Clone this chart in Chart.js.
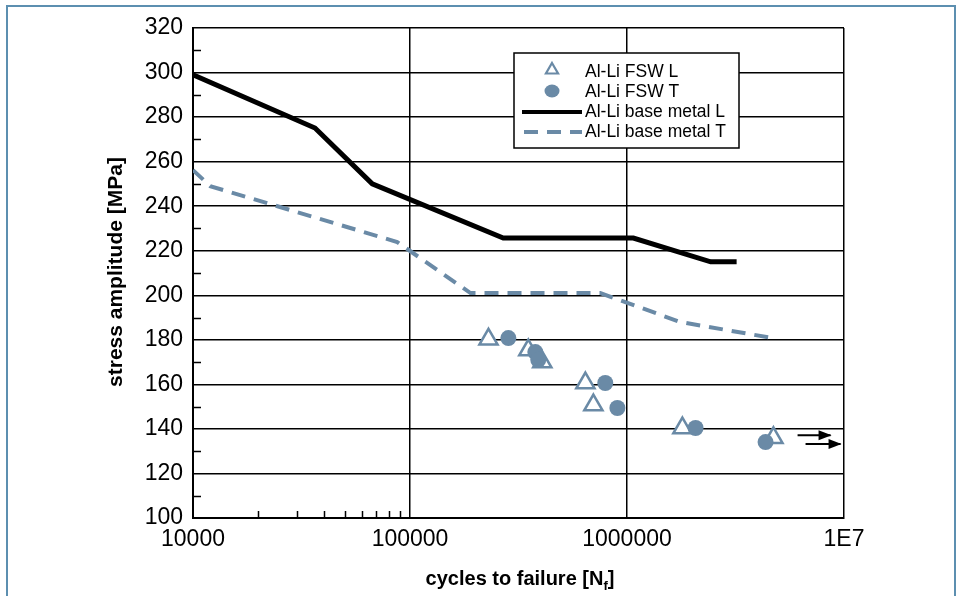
<!DOCTYPE html>
<html>
<head>
<meta charset="utf-8">
<script src="https://cdn.jsdelivr.net/npm/chart.js@4/dist/chart.umd.min.js"></script>
<style>
  html, body { margin: 0; padding: 0; background: #fff; overflow: hidden; }
  #wrap { position: relative; width: 961px; height: 596px; }
  #frame { position: absolute; left: 6px; top: 5px; width: 950px; height: 620px; border: 2px solid #5c8fb0; box-sizing: border-box; pointer-events: none; }
  canvas { position: absolute; left: 0; top: 0; }
</style>
</head>
<body>
<div id="wrap">
  <canvas id="c" width="961" height="596"></canvas>
  <div id="frame"></div>
</div>
<script>
// ---- data ----
const xTickValues = [10000, 100000, 1000000, 10000000];
const xTickLabels = ['10000', '100000', '1000000', '1E7'];
const xMinorTicks = [20000, 30000, 40000, 50000, 60000, 70000, 80000, 90000];
const yMinorTicks = [110, 130, 150, 170, 190, 210, 230, 250, 270, 290, 310];

const fswL_N = [230000, 351000, 407000, 643000, 700000, 1800000, 4730000];
const fswL_S = [180.2, 175.4, 170, 160.6, 150.7, 140.4, 136];

const fswT_N = [284000, 378000, 390000, 794000, 903000, 2070000, 4350000];
const fswT_S = [180.8, 174.5, 171, 160.6, 149.4, 140.4, 134.1];

const baseL_N = [10000, 36500, 67000, 269000, 1070000, 2430000, 3200000];
const baseL_S = [299, 275.1, 250, 225.7, 225.7, 215, 215];

const baseT_N = [10000, 12000, 87300, 190000, 753000, 1760000, 4690000];
const baseT_S = [256.2, 249, 223.9, 201, 201, 188, 180.8];

// run-out arrows (specimens that did not fail)
const runout1_N = [6110000, 8670000];
const runout1_S = [137.2, 137.2];
const runout2_N = [6650000, 9640000];
const runout2_S = [133.2, 133.2];

const seriesNames = ['Al-Li FSW L', 'Al-Li FSW T', 'Al-Li base metal L', 'Al-Li base metal T'];

const blue = '#6a8aa6';
const FONT = "'Liberation Sans', Arial, sans-serif";

function pts(xs, ys) { return xs.map((x, i) => ({ x: x, y: ys[i] })); }

const minorTicksPlugin = {
  id: 'minorTicks',
  afterDatasetsDraw(chart) {
    const ctx = chart.ctx, xs = chart.scales.x, ys = chart.scales.y, a = chart.chartArea;
    ctx.save();
    ctx.strokeStyle = '#000';
    ctx.lineWidth = 1.5;
    ctx.beginPath();
    xMinorTicks.forEach(v => {
      const px = Math.round(xs.getPixelForValue(v)) + 0.5;
      ctx.moveTo(px, a.bottom); ctx.lineTo(px, a.bottom - 7);
    });
    yMinorTicks.forEach(v => {
      const py = Math.round(ys.getPixelForValue(v)) + 0.5;
      ctx.moveTo(a.left, py); ctx.lineTo(a.left + 8, py);
    });
    ctx.stroke();
    ctx.restore();
  }
};

const arrowPlugin = {
  id: 'arrowHeads',
  afterDatasetsDraw(chart) {
    const ctx = chart.ctx;
    chart.data.datasets.forEach((ds, i) => {
      if (!ds.isArrow) return;
      const meta = chart.getDatasetMeta(i);
      const p = meta.data[meta.data.length - 1];
      ctx.save();
      ctx.fillStyle = '#000';
      ctx.beginPath();
      ctx.moveTo(p.x + 1, p.y);
      ctx.lineTo(p.x - 12, p.y - 5);
      ctx.lineTo(p.x - 12, p.y + 5);
      ctx.closePath();
      ctx.fill();
      ctx.restore();
    });
  }
};

const legendPlugin = {
  id: 'boxLegend',
  afterDraw(chart) {
    const ctx = chart.ctx;
    const bx = 514, by = 53, bw = 225, bh = 95;
    ctx.save();
    ctx.fillStyle = '#fff';
    ctx.fillRect(bx, by, bw, bh);
    ctx.strokeStyle = '#000';
    ctx.lineWidth = 1.5;
    ctx.strokeRect(bx, by, bw, bh);
    const rows = [72, 92, 112, 132];
    const sx = 552, tx = 585;
    // triangle
    ctx.strokeStyle = blue; ctx.lineWidth = 2.2;
    ctx.beginPath();
    const r = 7, cy0 = rows[0] - 2;
    ctx.moveTo(sx, cy0 - r);
    ctx.lineTo(sx + r * 0.866, cy0 + r * 0.5);
    ctx.lineTo(sx - r * 0.866, cy0 + r * 0.5);
    ctx.closePath(); ctx.stroke();
    // circle
    ctx.fillStyle = blue;
    ctx.beginPath(); ctx.ellipse(sx, rows[1] - 1, 7.5, 6.5, 0, 0, Math.PI * 2); ctx.fill();
    // solid line
    ctx.strokeStyle = '#000'; ctx.lineWidth = 4;
    ctx.beginPath(); ctx.moveTo(522, rows[2]); ctx.lineTo(582, rows[2]); ctx.stroke();
    // dashed line
    ctx.strokeStyle = blue; ctx.lineWidth = 4; ctx.setLineDash([14, 9]);
    ctx.beginPath(); ctx.moveTo(524, rows[3]); ctx.lineTo(582, rows[3]); ctx.stroke();
    ctx.setLineDash([]);
    ctx.fillStyle = '#000';
    ctx.font = '17.5px ' + FONT;
    ctx.textBaseline = 'middle';
    ctx.textAlign = 'left';
    seriesNames.forEach((n, i) => ctx.fillText(n, tx, rows[i]));
    ctx.restore();
  }
};

const axisTitlePlugin = {
  id: 'axisTitles',
  afterDraw(chart) {
    const ctx = chart.ctx;
    ctx.save();
    ctx.fillStyle = '#000';
    ctx.textBaseline = 'alphabetic';
    const main = 'cycles to failure [N';
    const sub = 'f';
    const close = ']';
    ctx.font = 'bold 20px ' + FONT;
    const w1 = ctx.measureText(main).width;
    ctx.font = 'bold 13px ' + FONT;
    const w2 = ctx.measureText(sub).width;
    ctx.font = 'bold 20px ' + FONT;
    const w3 = ctx.measureText(close).width;
    const total = w1 + w2 + w3;
    const cx = 520, base = 585;
    const x0 = cx - total / 2;
    ctx.textAlign = 'left';
    ctx.fillText(main, x0, base);
    ctx.font = 'bold 13px ' + FONT;
    ctx.fillText(sub, x0 + w1, base + 5);
    ctx.font = 'bold 20px ' + FONT;
    ctx.fillText(close, x0 + w1 + w2, base);
    // y title
    ctx.translate(116, 272);
    ctx.rotate(-Math.PI / 2);
    ctx.textAlign = 'center';
    ctx.textBaseline = 'middle';
    ctx.font = 'bold 21px ' + FONT;
    ctx.fillText('stress amplitude [MPa]', 0, 0);
    ctx.restore();
  }
};

new Chart(document.getElementById('c'), {
  type: 'scatter',
  data: {
    datasets: [
      { label: seriesNames[0], data: pts(fswL_N, fswL_S), pointStyle: 'triangle', pointRadius: 10.5,
        pointBorderWidth: 2.5, borderColor: blue, backgroundColor: '#fff', pointBackgroundColor: '#fff', showLine: false, order: 1 },
      { label: seriesNames[1], data: pts(fswT_N, fswT_S), pointStyle: 'circle', pointRadius: 8,
        borderColor: blue, backgroundColor: blue, pointBorderWidth: 0, showLine: false, order: 0 },
      { label: seriesNames[2], data: pts(baseL_N, baseL_S), showLine: true, borderColor: '#000', borderWidth: 5,
        pointRadius: 0, fill: false, tension: 0, order: 3, borderJoinStyle: 'miter' },
      { label: seriesNames[3], data: pts(baseT_N, baseT_S), showLine: true, borderColor: blue, borderWidth: 4,
        borderDash: [14, 9], pointRadius: 0, fill: false, tension: 0, order: 4 },
      { label: 'runout1', isArrow: true, data: pts(runout1_N, runout1_S), showLine: true, borderColor: '#000', borderWidth: 2,
        pointRadius: 0, order: 2 },
      { label: 'runout2', isArrow: true, data: pts(runout2_N, runout2_S), showLine: true, borderColor: '#000', borderWidth: 2,
        pointRadius: 0, order: 2 }
    ]
  },
  options: {
    responsive: false,
    animation: false,
    events: [],
    layout: { padding: { left: 0, right: 117, top: 28, bottom: 0 } },
    plugins: { legend: { display: false }, tooltip: { enabled: false } },
    scales: {
      x: {
        type: 'logarithmic', min: 10000, max: 10000000,
        afterBuildTicks(s) { s.ticks = xTickValues.map(v => ({ value: v })); },
        afterFit(s) { s.height = 78; },
        ticks: {
          autoSkip: false, maxRotation: 0, padding: 8, color: '#000',
          font: { family: FONT, size: 23 },
          callback(v) { const i = xTickValues.indexOf(v); return i >= 0 ? xTickLabels[i] : ''; }
        },
        grid: { color: '#000', lineWidth: 1.5, drawTicks: false },
        border: { color: '#000', width: 2 }
      },
      y: {
        min: 100, max: 320,
        afterFit(s) { s.width = 193; },
        ticks: { stepSize: 20, padding: 10, color: '#000', font: { family: FONT, size: 23 } },
        grid: { color: '#000', lineWidth: 1.5, drawTicks: false },
        border: { color: '#000', width: 2 }
      }
    }
  },
  plugins: [minorTicksPlugin, arrowPlugin, legendPlugin, axisTitlePlugin]
});
</script>
</body>
</html>
